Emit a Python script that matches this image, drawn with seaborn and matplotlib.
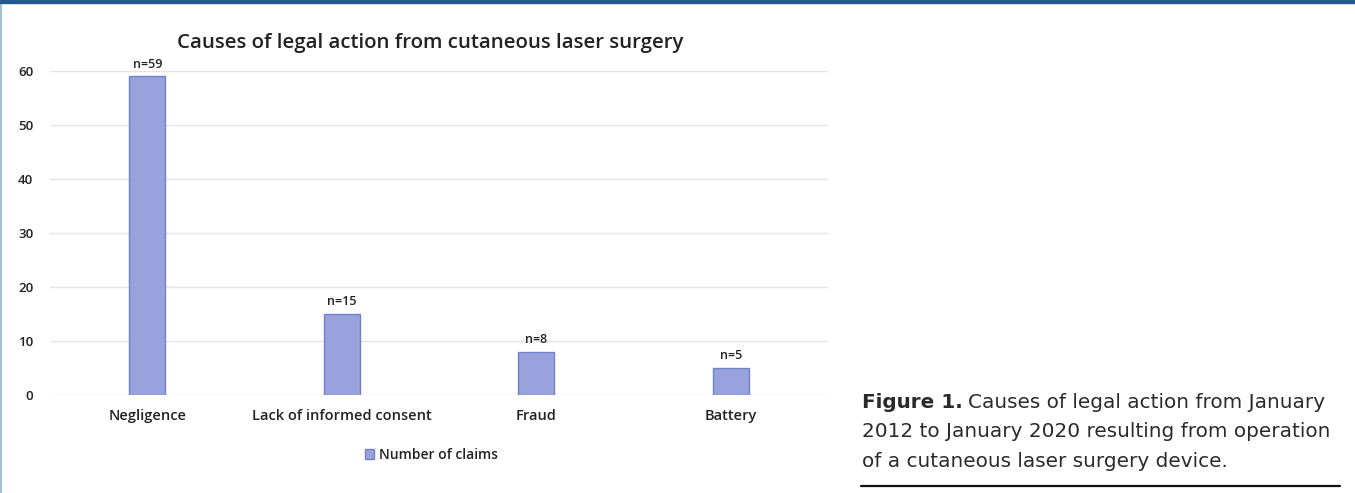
import numpy as np
import pandas as pd
import seaborn as sns
import matplotlib.pyplot as plt
from matplotlib.patches import Rectangle
from matplotlib.lines import Line2D

# chart data
causes = ["Negligence", "Lack of informed consent", "Fraud", "Battery"]
claims = [59, 15, 8, 5]
y_ticks = [0, 10, 20, 30, 40, 50, 60]

sns.set_style('white')
plt.rcParams['font.family'] = ['Open Sans', 'DejaVu Sans']

W, H = 1355, 493
fig = plt.figure(figsize=(W / 100, H / 100), dpi=100)

# axes placed in pixel coords
ax = fig.add_axes([50 / W, (H - 395) / H, 778 / W, 324 / H])
df = pd.DataFrame({"cause": causes, "claims": claims})
sns.barplot(data=df, x="cause", y="claims", ax=ax, color="#98a3dd",
            width=0.185, edgecolor="#7281c9", linewidth=1.0, saturation=1,
            label="Number of claims")
ax.set_xlim(-0.5, 3.5)
ax.set_ylim(0, 60)
ax.set_yticks(y_ticks)
ax.yaxis.grid(True, color="#e4e4e4", lw=1)
ax.set_axisbelow(True)
for s in ax.spines.values():
    s.set_visible(False)
ax.set_xlabel("")
ax.set_ylabel("")
ax.tick_params(axis='both', length=0)
ax.tick_params(axis='y', pad=12, labelsize=9.5, labelcolor="#222222")
ax.tick_params(axis='x', pad=10, labelsize=10.5, labelcolor="#222222")
for t in ax.get_yticklabels():
    t.set_fontweight('semibold')
for t in ax.get_xticklabels():
    t.set_fontweight('semibold')

for cont in ax.containers:
    ax.bar_label(cont, labels=[f"n={v}" for v in claims], padding=4,
                 fontsize=9, color="#222222", fontweight='semibold')

ax.text((430 - 50) / 778, 1 + (71 - 43) / 324,
        "Causes of legal action from cutaneous laser surgery",
        transform=ax.transAxes, ha='center', va='center', fontsize=14.7,
        fontweight='semibold', color="#222222")

leg = ax.legend(loc='center', bbox_to_anchor=(0.49, 1 - (455 - 71) / 324), frameon=False,
                fontsize=10, handlelength=0.7, handleheight=0.7, handletextpad=0.3)
for t in leg.get_texts():
    t.set_fontweight('semibold')
    t.set_color("#222222")

# page decoration: top band and left rule
fig.patches.append(Rectangle((0, 1 - 3 / H), 1, 3 / H, transform=fig.transFigure,
                             color="#1f5b8c", zorder=10))
fig.lines.append(Line2D([0.7 / W, 0.7 / W], [0, 1 - 3 / H], transform=fig.transFigure,
                        color="#8fb2d4", lw=1.2))

# caption (baselines in px from top)
cap_x = 862 / W
cap_fs = 14.4
cap_font = ['DejaVu Sans']
cap_col = "#2a2a2a"
bold = fig.text(cap_x, 1 - 408 / H, "Figure 1.", fontsize=cap_fs, fontweight='bold',
                family=cap_font, va='baseline', ha='left', color=cap_col)
fig.canvas.draw()
bb = bold.get_window_extent()
fig.text(bb.x1 / W + 5 / W, 1 - 408 / H, "Causes of legal action from January", fontsize=cap_fs,
         family=cap_font, va='baseline', ha='left', color=cap_col)
fig.text(cap_x, 1 - 437 / H, "2012 to January 2020 resulting from operation", fontsize=cap_fs,
         family=cap_font, va='baseline', ha='left', color=cap_col)
fig.text(cap_x, 1 - 467 / H, "of a cutaneous laser surgery device.", fontsize=cap_fs,
         family=cap_font, va='baseline', ha='left', color=cap_col)
fig.lines.append(Line2D([861 / W, 1340 / W], [1 - 486 / H, 1 - 486 / H],
                        transform=fig.transFigure, color="#111111", lw=1.6))

fig.savefig("out.png", dpi=100)
